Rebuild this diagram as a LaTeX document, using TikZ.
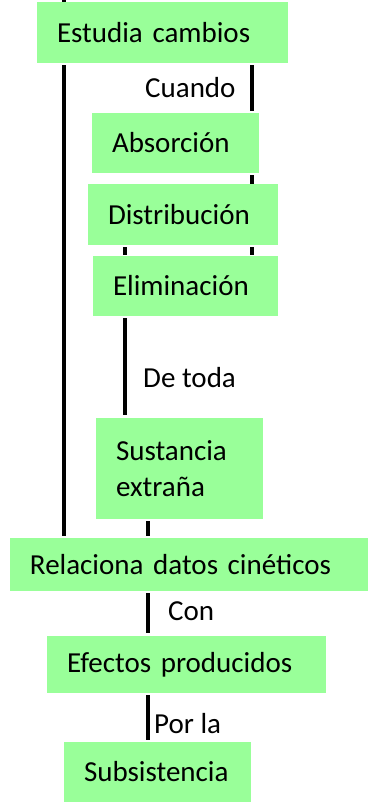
\documentclass[tikz,border=0pt]{standalone}
\usepackage{fontspec}
\setmainfont{Carlito}
\definecolor{boxgreen}{RGB}{153,255,153}
\begin{document}
\begin{tikzpicture}[x=1pt,y=-1pt,
  box/.style={fill=boxgreen,draw=none,rectangle,inner xsep=20pt,inner ysep=0pt,align=left,
    font=\fontsize{29}{36}\selectfont},
  lbl/.style={anchor=west,inner sep=0pt,font=\fontsize{29}{36}\selectfont},
  conn/.style={line width=4pt,black}]
\useasboundingbox (0,0) rectangle (370,809);
\node[box,minimum width=251pt,minimum height=61pt,text width=211pt] (est) at (162.5,32.5) {Estudia cambios};
\node[box,minimum width=167pt,minimum height=60pt,text width=127pt] (abs) at (175.5,143) {Absorción};
\node[box,minimum width=190pt,minimum height=61pt,text width=150pt] (dis) at (183,214.5) {Distribución};
\node[box,minimum width=185pt,minimum height=60pt,text width=145pt] (eli) at (185.5,286) {Eliminación};
\node[box,minimum width=167pt,minimum height=101pt,text width=127pt] (sus) at (179.5,468.5) {Sustancia\\extraña};
\node[box,minimum width=358pt,minimum height=53pt,text width=318pt] (rel) at (189,564.5) {Relaciona datos cinéticos};
\node[box,minimum width=279pt,minimum height=57pt,text width=239pt] (efe) at (186.5,664.5) {Efectos producidos};
\node[box,minimum width=187pt,minimum height=60pt,text width=147pt] (sub) at (157.5,772) {Subsistencia};
\node[lbl] (cuando) at (145,88) {Cuando};
\node[lbl] (detoda) at (143,378) {De toda};
\node[lbl] (con) at (168,611) {Con};
\node[lbl] (porla) at (154,724) {Por la};
\coordinate (top) at (64,0);
\coordinate (L) at (64,0);
\coordinate (R) at (252,0);
\coordinate (M) at (125,0);
\coordinate (C) at (148,0);
\draw[conn] (top) -- (top |- est.north);
\draw[conn,shorten <=2pt,shorten >=2pt] (est.south -| L) -- (rel.north -| L);
\draw[conn,shorten <=2pt,shorten >=2pt] (est.south -| R) -- (abs.north -| R);
\draw[conn,shorten <=2pt,shorten >=0pt] (abs.south -| R) -- (dis.north -| R);
\draw[conn,shorten <=2pt,shorten >=1pt] (dis.south -| M) -- (eli.north -| M);
\draw[conn,shorten <=2pt,shorten >=1pt] (dis.south -| R) -- (eli.north -| R);
\draw[conn,shorten <=2pt,shorten >=3pt] (eli.south -| M) -- (sus.north -| M);
\draw[conn,shorten <=2pt,shorten >=2pt] (sus.south -| C) -- (rel.north -| C);
\draw[conn,shorten <=2pt,shorten >=3pt] (rel.south -| C) -- (efe.north -| C);
\draw[conn,shorten <=2pt,shorten >=2pt] (efe.south -| C) -- (sub.north -| C);
\end{tikzpicture}
\end{document}
